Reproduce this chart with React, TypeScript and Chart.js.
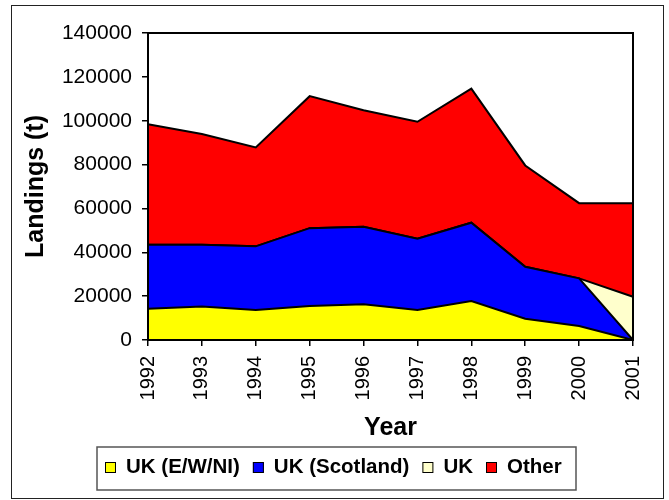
import React, { useEffect, useRef } from "react";
import { Chart, registerables } from "chart.js";

Chart.register(...registerables);

// Landings (tonnes) by year and fleet
const years = ["1992", "1993", "1994", "1995", "1996", "1997", "1998", "1999", "2000", "2001"];
const ukEWNI = [14300, 15300, 13700, 15500, 16300, 13700, 17800, 9700, 6400, 0];
const ukScotland = [29100, 28100, 29000, 35500, 35300, 32500, 35700, 23700, 21700, 0];
const ukUnsplit = [0, 0, 0, 0, 0, 0, 0, 0, 0, 19700];
const other = [55000, 50500, 45100, 60200, 53200, 53300, 61100, 46200, 34300, 42700];

const seriesNames = ["UK (E/W/NI)", "UK (Scotland)", "UK", "Other"];
const seriesColors = ["#FFFF00", "#0000FF", "#FFFFCC", "#FF0000"];
const yTicks = [0, 20000, 40000, 60000, 80000, 100000, 120000, 140000];

const FONT = "'Liberation Sans', Arial, sans-serif";

// Outer frame, plot frame and the boxed legend underneath
const framePlugin = {
  id: "frames",
  afterDatasetsDraw(chart: any) {
    const { ctx, chartArea } = chart;
    ctx.save();
    ctx.strokeStyle = "#000";
    ctx.lineWidth = 2;
    ctx.strokeRect(chartArea.left, chartArea.top, chartArea.right - chartArea.left, chartArea.bottom - chartArea.top);
    ctx.restore();
  },
  afterDraw(chart: any) {
    const { ctx } = chart;
    ctx.save();
    // outer border
    ctx.strokeStyle = "#222";
    ctx.lineWidth = 1;
    ctx.strokeRect(11.5, 5.5, 652, 493);

    // legend box
    ctx.strokeStyle = "#555";
    ctx.lineWidth = 1.5;
    ctx.strokeRect(97, 447, 479, 43);

    ctx.font = `bold 20.5px ${FONT}`;
    ctx.textBaseline = "alphabetic";
    ctx.textAlign = "left";
    let x = 105;
    const baseY = 473;
    chart.data.datasets.forEach((ds: any) => {
      ctx.fillStyle = ds.backgroundColor;
      ctx.fillRect(x, baseY - 11, 11, 11);
      ctx.strokeStyle = "#000";
      ctx.lineWidth = 1;
      ctx.strokeRect(x + 0.5, baseY - 10.5, 10, 10);
      x += 21;
      ctx.fillStyle = "#000";
      ctx.fillText(ds.label, x, baseY);
      x += ctx.measureText(ds.label).width + 13;
    });
    ctx.restore();
  },
};

export default function App() {
  const canvasRef = useRef<HTMLCanvasElement | null>(null);

  useEffect(() => {
    const canvas = canvasRef.current;
    if (!canvas) return;
    const values = [ukEWNI, ukScotland, ukUnsplit, other];
    const chart = new Chart(canvas, {
      type: "line",
      data: {
        labels: years,
        datasets: values.map((data, i) => ({
          label: seriesNames[i],
          data,
          backgroundColor: seriesColors[i],
          borderColor: "#000",
          borderWidth: 2,
          fill: i === 0 ? "origin" : "-1",
          pointRadius: 0,
          tension: 0,
        })),
      },
      options: {
        responsive: false,
        animation: false,
        layout: { padding: { left: 0, top: 33, right: 36, bottom: 55 } },
        plugins: {
          legend: { display: false },
          tooltip: { enabled: false },
        },
        scales: {
          x: {
            grid: { display: true, drawOnChartArea: false, drawTicks: true, tickLength: 6, color: "#000", lineWidth: 1.5 },
            border: { display: true, color: "#000", width: 2 },
            ticks: {
              color: "#000",
              font: { family: FONT, size: 20 },
              minRotation: 90,
              maxRotation: 90,
              autoSkip: false,
              padding: 10,
            },
            title: {
              display: true,
              text: "Year",
              color: "#000",
              font: { family: FONT, size: 25, weight: "bold" },
              padding: { top: 0, bottom: 2 },
            },
            afterFit(scale: any) {
              scale.height = 105;
            },
          },
          y: {
            stacked: true,
            min: 0,
            max: 140000,
            afterBuildTicks(scale: any) {
              scale.ticks = yTicks.map((v) => ({ value: v }));
            },
            grid: { display: true, drawOnChartArea: false, drawTicks: true, tickLength: 6, color: "#000", lineWidth: 1.5 },
            border: { display: true, color: "#000", width: 2 },
            ticks: {
              color: "#000",
              font: { family: FONT, size: 21 },
              padding: 10,
              callback: (v: any) => String(v),
            },
            title: {
              display: true,
              text: "Landings (t)",
              color: "#000",
              font: { family: FONT, size: 25, weight: "bold" },
              padding: { top: 21, bottom: 0 },
            },
            afterFit(scale: any) {
              scale.width = 148;
            },
          },
        },
      },
      plugins: [framePlugin],
    });
    return () => chart.destroy();
  }, []);

  return (
    <div style={{ position: "fixed", left: 0, top: 0, width: 669, height: 500, background: "#fff" }}>
      <canvas ref={canvasRef} width={669} height={500} style={{ display: "block" }} />
    </div>
  );
}
